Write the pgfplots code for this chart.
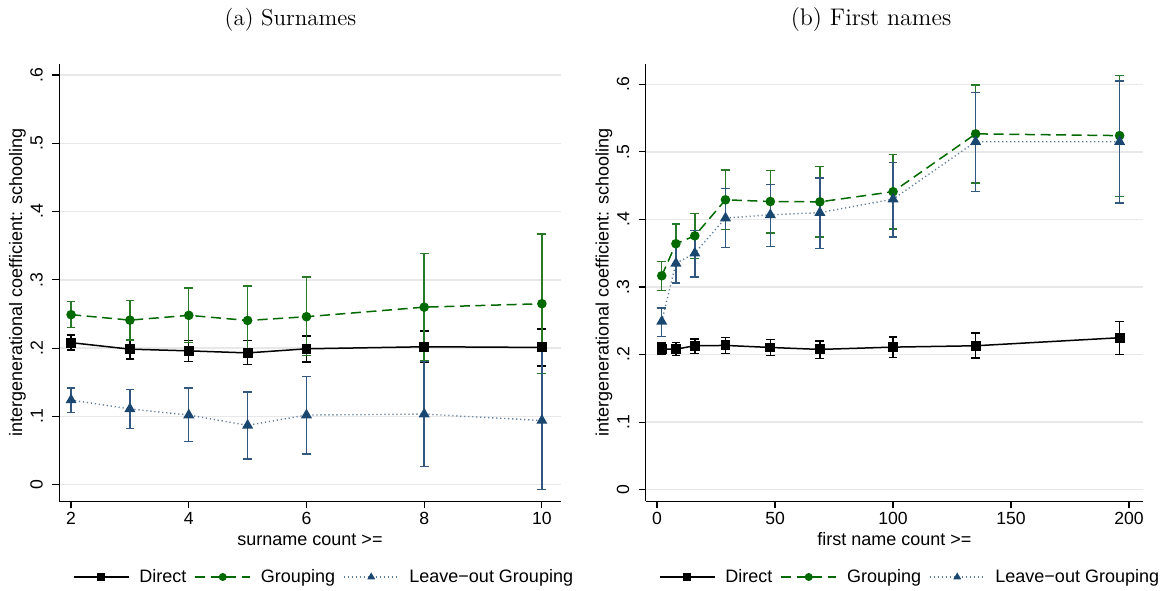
\documentclass[border=0pt]{standalone}
\usepackage{fontspec}
\usepackage{pgfplots}
\usepackage{pgfplotstable}
\pgfplotsset{compat=1.18}
\newfontfamily\axfont{Liberation Sans}

\definecolor{sgreen}{RGB}{0,105,0}
\definecolor{sgreenbar}{RGB}{40,122,40}
\definecolor{snavy}{RGB}{26,71,111}
\definecolor{snavybar}{RGB}{50,88,128}
\definecolor{sgrid}{RGB}{232,232,232}

% Surnames
\pgfplotstableread{
x y lo hi
2 0.208 0.197 0.2195
3 0.1985 0.184 0.212
4 0.196 0.180 0.211
5 0.193 0.1756 0.211
6 0.199 0.1795 0.218
8 0.202 0.179 0.225
10 0.201 0.174 0.228
}\LDirect
\pgfplotstableread{
x y lo hi
2 0.249 0.230 0.268
3 0.241 0.212 0.270
4 0.248 0.208 0.288
5 0.2405 0.190 0.291
6 0.246 0.189 0.304
8 0.260 0.1815 0.3385
10 0.265 0.1625 0.367
}\LGroup
\pgfplotstableread{
x y lo hi
2 0.124 0.106 0.1415
3 0.111 0.0825 0.139
4 0.102 0.063 0.1415
5 0.087 0.0376 0.136
6 0.102 0.045 0.1585
8 0.1034 0.027 0.180
10 0.094 -0.007 0.196
}\LLeave
% First names
\pgfplotstableread{
x y lo hi
2 0.208 0.1997 0.217
8 0.208 0.199 0.218
16 0.213 0.202 0.223
29 0.2135 0.202 0.225
48 0.2105 0.1987 0.222
69 0.2076 0.194 0.220
100 0.211 0.196 0.226
135 0.213 0.195 0.232
196 0.2249 0.200 0.249
}\RDirect
\pgfplotstableread{
x y lo hi
2 0.3166 0.295 0.338
8 0.364 0.335 0.393
16 0.3757 0.342 0.409
29 0.429 0.385 0.473
48 0.4265 0.380 0.472
69 0.426 0.374 0.478
100 0.441 0.386 0.496
135 0.5266 0.4536 0.599
196 0.524 0.434 0.613
}\RGroup
\pgfplotstableread{
x y lo hi
2 0.249 0.227 0.269
8 0.335 0.306 0.364
16 0.350 0.315 0.3836
29 0.402 0.3585 0.446
48 0.4068 0.360 0.452
69 0.410 0.357 0.4615
100 0.430 0.374 0.484
135 0.515 0.441 0.588
196 0.515 0.4245 0.605
}\RLeave

\pgfplotsset{
  stata/.style={
    scale only axis, anchor=south west,
    height=218.65pt,
    axis lines*=left,
    axis line style={line width=0.7pt, black},
    tick align=outside,
    major tick length=3.5pt,
    tick style={line width=0.6pt, black},
    ymajorgrids,
    major grid style={sgrid, line width=0.7pt},
    ytick={0,0.1,0.2,0.3,0.4,0.5,0.6},
    yticklabels={0,.1,.2,.3,.4,.5,.6},
    /pgf/number format/assume math mode=true,
    tick label style={font=\axfont\fontsize{8.8}{10}\selectfont},
    yticklabel style={xshift=-4.5pt, rotate=90, anchor=south, inner sep=0pt},
    xticklabel style={anchor=base, yshift=-8.2pt, inner sep=0pt},
    every axis y label/.style={at={(axis description cs:0,0.5)}, xshift=-16.5pt, rotate=90, anchor=south, inner sep=0pt, font=\axfont\fontsize{9}{11}\selectfont},
    every axis x label/.style={at={(axis description cs:0.5,0)}, yshift=-22pt, anchor=base, inner sep=0pt, font=\axfont\fontsize{9}{11}\selectfont},
    ylabel={intergenerational coefficient: schooling},
    legend columns=3,
    legend cell align=left,
    legend style={anchor=west, draw=none, fill=none, inner sep=0pt, outer sep=0pt,
      font=\axfont\fontsize{9}{11}\selectfont,
      nodes={inner sep=0pt},
      /tikz/every even column/.append style={column sep=4pt},
      /tikz/every odd column/.append style={column sep=5pt}},
    legend image code/.code={\draw[mark repeat=2, mark phase=2, #1, mark size=1.6pt] plot coordinates {(0pt,0pt) (13.75pt,0pt) (27.5pt,0pt)};},
  },
  pdirect/.style={black, line width=0.75pt, mark=square*, mark size=2.1pt, mark options={solid, fill=black},
    error bars/.cd, y dir=both, y explicit,
    error bar style={solid, line width=0.7pt, black},
    error mark options={rotate=90, solid, line width=0.7pt, mark size=2.2pt, black}},
  pgroup/.style={sgreen, line width=0.75pt, dash pattern=on 5pt off 2.8pt, mark=*, mark size=2.0pt, mark options={solid, fill=sgreen},
    error bars/.cd, y dir=both, y explicit,
    error bar style={solid, line width=0.7pt, sgreenbar},
    error mark options={rotate=90, solid, line width=0.7pt, mark size=2.2pt, sgreenbar}},
  pleave/.style={snavy!70, line width=0.7pt, dash pattern=on 0.6pt off 1.4pt, mark=triangle*, mark size=2.5pt, mark options={solid, fill=snavy, draw=snavy},
    error bars/.cd, y dir=both, y explicit,
    error bar style={solid, line width=0.7pt, snavybar},
    error mark options={rotate=90, solid, line width=0.7pt, mark size=2.2pt, snavybar}},
}

\begin{document}
\begin{tikzpicture}
\useasboundingbox (0,0) rectangle (582.5pt,-295pt);

\begin{axis}[stata,
  at={(29.65pt,-250.65pt)}, width=250.7pt,
  xmin=1.8, xmax=10.32, ymin=-0.0243, ymax=0.616,
  xtick={2,4,6,8,10},
  xlabel={surname count >=},
  legend style={at={(axis description cs:0.0273,-0.1731)}},
]
\addplot[pdirect] table[x=x, y=y, y error plus expr=\thisrow{hi}-\thisrow{y}, y error minus expr=\thisrow{y}-\thisrow{lo}] {\LDirect};
\addlegendentry{Direct}
\addplot[pgroup] table[x=x, y=y, y error plus expr=\thisrow{hi}-\thisrow{y}, y error minus expr=\thisrow{y}-\thisrow{lo}] {\LGroup};
\addlegendentry{Grouping}
\addplot[pleave] table[x=x, y=y, y error plus expr=\thisrow{hi}-\thisrow{y}, y error minus expr=\thisrow{y}-\thisrow{lo}] {\LLeave};
\addlegendentry{Leave−out Grouping}
\end{axis}

\begin{axis}[stata,
  at={(322.85pt,-250.65pt)}, width=248.75pt,
  xmin=-4.8, xmax=206, ymin=-0.0172, ymax=0.630,
  xtick={0,50,100,150,200},
  xlabel={first name count >=},
  legend style={at={(axis description cs:0.0267,-0.1731)}},
]
\addplot[pdirect] table[x=x, y=y, y error plus expr=\thisrow{hi}-\thisrow{y}, y error minus expr=\thisrow{y}-\thisrow{lo}] {\RDirect};
\addlegendentry{Direct}
\addplot[pgroup] table[x=x, y=y, y error plus expr=\thisrow{hi}-\thisrow{y}, y error minus expr=\thisrow{y}-\thisrow{lo}] {\RGroup};
\addlegendentry{Grouping}
\addplot[pleave] table[x=x, y=y, y error plus expr=\thisrow{hi}-\thisrow{y}, y error minus expr=\thisrow{y}-\thisrow{lo}] {\RLeave};
\addlegendentry{Leave−out Grouping}
\end{axis}

\node[anchor=base, inner sep=0pt, font=\fontsize{11.5}{14}\selectfont] at (145.25pt,-12.5pt) {(a) Surnames};
\node[anchor=base, inner sep=0pt, font=\fontsize{12}{14}\selectfont] at (435.5pt,-12.5pt) {(b) First names};
\end{tikzpicture}
\end{document}
